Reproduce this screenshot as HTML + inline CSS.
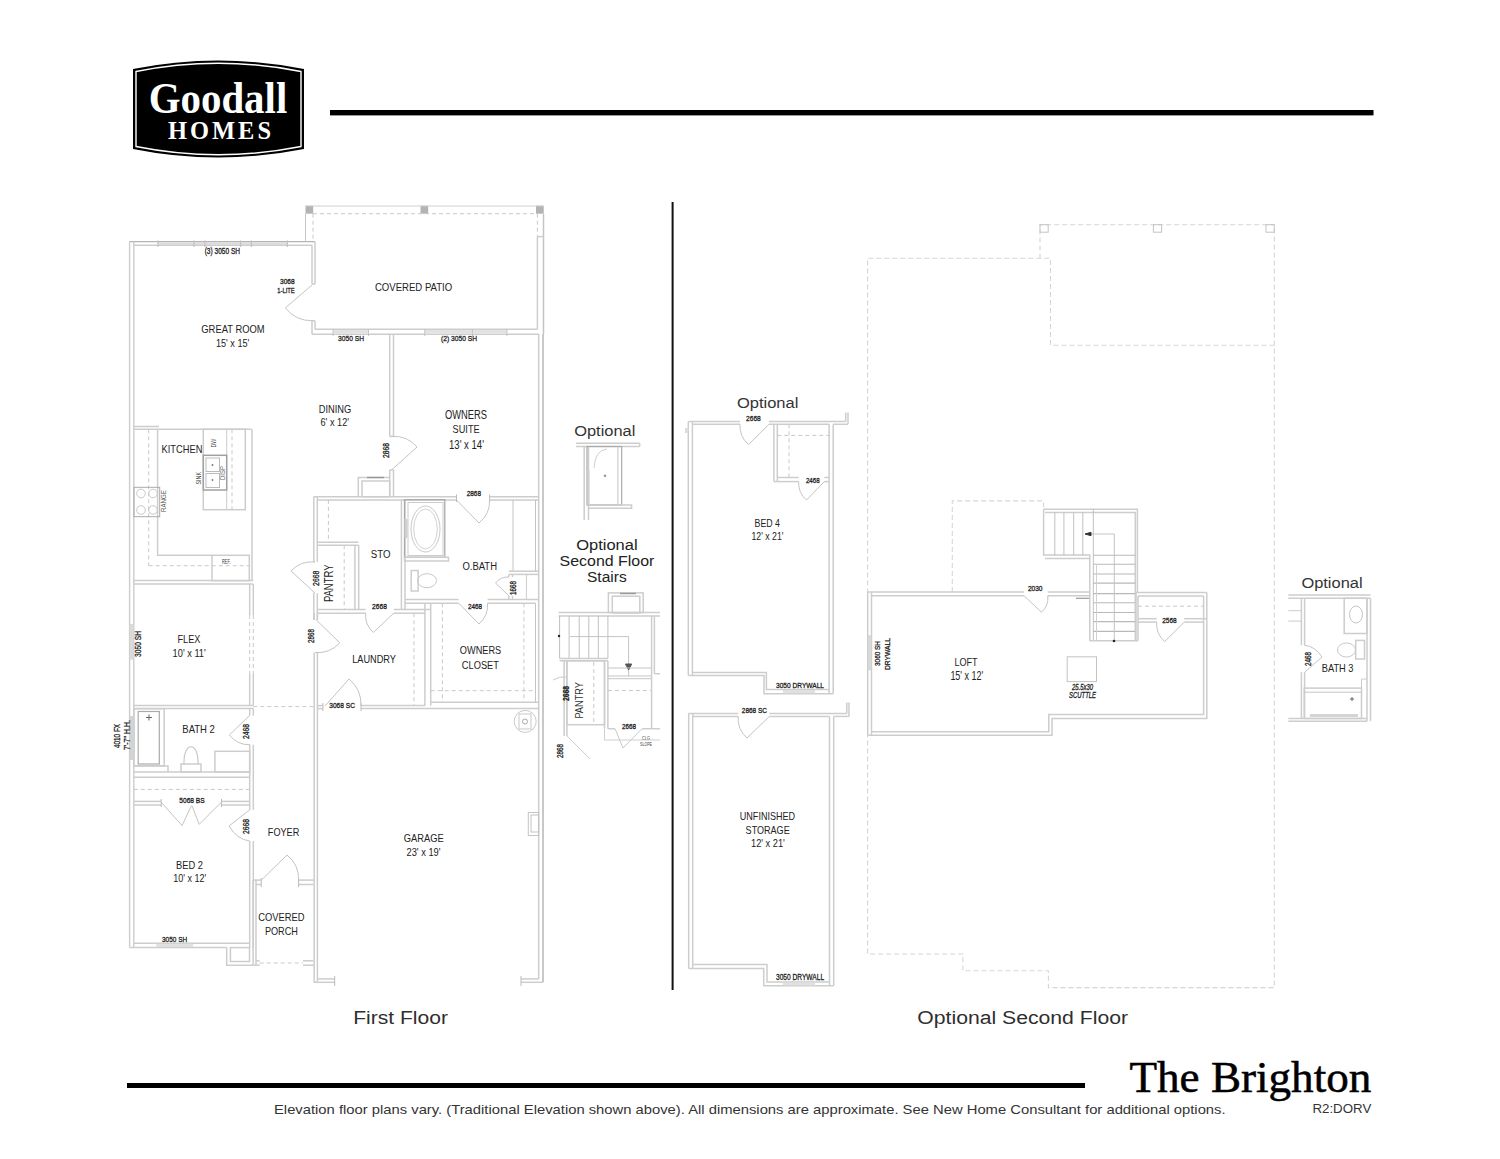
<!DOCTYPE html>
<html><head><meta charset="utf-8">
<style>
html,body{margin:0;padding:0;background:#fff;}
body{width:1500px;height:1159px;position:relative;overflow:hidden;font-family:"Liberation Sans",sans-serif;}
.abs{position:absolute;white-space:nowrap;}

</style></head><body>
<svg class="abs" style="left:0;top:0" width="1500" height="1159" viewBox="0 0 1500 1159">
  <path d="M133 69 Q218 52 304 69 L304 149 Q218 166 133 149 Z" fill="#000"/>
  <path d="M136 71.5 Q218 55 301 71.5 L301 146.5 Q218 163 136 146.5 Z" fill="none" stroke="#fff" stroke-width="1.4"/>
  <rect x="330" y="110" width="1043.5" height="5.4" fill="#000"/>
  <rect x="127" y="1083" width="958" height="5" fill="#000"/>
  <rect x="671.6" y="202" width="2" height="788" fill="#111"/>
<line x1="129.6" y1="241.6" x2="315" y2="241.6" stroke="#b4b4b4" stroke-width="1.4"/>
<line x1="133.8" y1="245.3" x2="312" y2="245.3" stroke="#cdcdcd" stroke-width="1.5"/>
<rect x="158" y="242.2" width="129" height="2.8" fill="#dcdcdc"/>
<line x1="158" y1="240.5" x2="158" y2="247" stroke="#bbb" stroke-width="1"/>
<line x1="194" y1="240.5" x2="194" y2="247" stroke="#bbb" stroke-width="1"/>
<line x1="205" y1="240.5" x2="205" y2="247" stroke="#bbb" stroke-width="1"/>
<line x1="240.7" y1="240.5" x2="240.7" y2="247" stroke="#bbb" stroke-width="1"/>
<line x1="251.3" y1="240.5" x2="251.3" y2="247" stroke="#bbb" stroke-width="1"/>
<line x1="287.3" y1="240.5" x2="287.3" y2="247" stroke="#bbb" stroke-width="1"/>
<line x1="129.6" y1="241.6" x2="129.6" y2="947.6" stroke="#cdcdcd" stroke-width="1.4"/>
<line x1="133.8" y1="241.6" x2="133.8" y2="947.6" stroke="#cdcdcd" stroke-width="1.4"/>
<line x1="315" y1="241.6" x2="315" y2="284" stroke="#cdcdcd" stroke-width="1.5"/>
<line x1="312" y1="245.3" x2="312" y2="284" stroke="#cdcdcd" stroke-width="1.5"/>
<line x1="312" y1="284" x2="315" y2="284" stroke="#cdcdcd" stroke-width="1.5"/>
<line x1="312" y1="320.7" x2="315" y2="320.7" stroke="#cdcdcd" stroke-width="1.5"/>
<line x1="315" y1="320.7" x2="315" y2="329.3" stroke="#cdcdcd" stroke-width="1.5"/>
<line x1="312" y1="320.7" x2="312" y2="334.3" stroke="#cdcdcd" stroke-width="1.5"/>
<path d="M312,285 L285.3,308" stroke="#c4c4c4" stroke-width="1" fill="none"/>
<path d="M285.3,308 Q296.1,321.3 313,320.7" stroke="#c4c4c4" stroke-width="1" fill="none"/>
<text x="280" y="284" font-family="Liberation Sans" font-size="7.4" fill="#222" stroke="#222" stroke-width="0.3" textLength="14.7" lengthAdjust="spacingAndGlyphs">3068</text>
<text x="277.3" y="292.7" font-family="Liberation Sans" font-size="7.26" fill="#222" stroke="#222" stroke-width="0.3" textLength="17.4" lengthAdjust="spacingAndGlyphs">1-LITE</text>
<text x="204.7" y="254" font-family="Liberation Sans" font-size="8.38" fill="#222" stroke="#222" stroke-width="0.3" textLength="35.3" lengthAdjust="spacingAndGlyphs">(3) 3050 SH</text>
<text x="201.3" y="333.3" font-family="Liberation Sans" font-size="11.17" fill="#222" textLength="63.4" lengthAdjust="spacingAndGlyphs">GREAT ROOM</text>
<text x="216" y="346.7" font-family="Liberation Sans" font-size="10.34" fill="#222" textLength="33.3" lengthAdjust="spacingAndGlyphs">15' x 15'</text>
<rect x="305.5" y="205.7" width="7.7" height="8.0" fill="#b3b3b3"/>
<rect x="420.5" y="205.7" width="7.7" height="8.0" fill="#b3b3b3"/>
<rect x="536" y="205.7" width="7.7" height="8.0" fill="#b3b3b3"/>
<line x1="305.5" y1="206" x2="543.5" y2="206" stroke="#d0d0d0" stroke-width="1"/>
<line x1="313" y1="213.7" x2="537" y2="213.7" stroke="#c9c9c9" stroke-width="1" stroke-dasharray="4 3"/>
<line x1="305.5" y1="213.7" x2="305.5" y2="241.6" stroke="#c8c8c8" stroke-width="1"/>
<line x1="313" y1="213.7" x2="313" y2="241.6" stroke="#c9c9c9" stroke-width="1" stroke-dasharray="4 3"/>
<line x1="543.5" y1="213.7" x2="543.5" y2="334" stroke="#c4c4c4" stroke-width="1.5"/>
<line x1="537.4" y1="213.7" x2="537.4" y2="236.6" stroke="#c9c9c9" stroke-width="1" stroke-dasharray="4 3"/>
<line x1="537.4" y1="236.6" x2="537.4" y2="329.3" stroke="#cdcdcd" stroke-width="1.5"/>
<line x1="537.4" y1="236.6" x2="543.5" y2="236.6" stroke="#cdcdcd" stroke-width="1.5"/>
<line x1="315" y1="329.3" x2="537.4" y2="329.3" stroke="#cdcdcd" stroke-width="1.5"/>
<line x1="312" y1="334.3" x2="538.7" y2="334.3" stroke="#cdcdcd" stroke-width="1.5"/>
<rect x="333" y="330" width="35.5" height="3.5" fill="#e2e2e2"/>
<rect x="424.8" y="330" width="82.2" height="3.5" fill="#e2e2e2"/>
<line x1="333" y1="329" x2="333" y2="336" stroke="#c4c4c4" stroke-width="1"/>
<line x1="368.5" y1="329" x2="368.5" y2="336" stroke="#c4c4c4" stroke-width="1"/>
<line x1="424.8" y1="329" x2="424.8" y2="336" stroke="#c4c4c4" stroke-width="1"/>
<line x1="472.4" y1="329" x2="472.4" y2="336" stroke="#c4c4c4" stroke-width="1"/>
<line x1="507" y1="329" x2="507" y2="336" stroke="#c4c4c4" stroke-width="1"/>
<text x="374.9" y="290.8" font-family="Liberation Sans" font-size="10.89" fill="#222" textLength="77.3" lengthAdjust="spacingAndGlyphs">COVERED PATIO</text>
<text x="338" y="341" font-family="Liberation Sans" font-size="7.82" fill="#222" stroke="#222" stroke-width="0.3" textLength="26" lengthAdjust="spacingAndGlyphs">3050 SH</text>
<text x="441" y="341" font-family="Liberation Sans" font-size="7.82" fill="#222" stroke="#222" stroke-width="0.3" textLength="36" lengthAdjust="spacingAndGlyphs">(2) 3050 SH</text>
<line x1="389.7" y1="334.3" x2="389.7" y2="436.4" stroke="#cdcdcd" stroke-width="1.5"/>
<line x1="393.5" y1="334.3" x2="393.5" y2="436.4" stroke="#cdcdcd" stroke-width="1.5"/>
<line x1="389.7" y1="470" x2="389.7" y2="496.7" stroke="#cdcdcd" stroke-width="1.5"/>
<line x1="393.5" y1="470" x2="393.5" y2="496.7" stroke="#cdcdcd" stroke-width="1.5"/>
<line x1="389.7" y1="436.4" x2="393.5" y2="436.4" stroke="#cdcdcd" stroke-width="1.5"/>
<line x1="389.7" y1="470" x2="393.5" y2="470" stroke="#cdcdcd" stroke-width="1.5"/>
<path d="M391.5,470 L417,447" stroke="#c4c4c4" stroke-width="1" fill="none"/>
<path d="M417,447 Q407.1,435.4 391.5,436.4" stroke="#c4c4c4" stroke-width="1" fill="none"/>
<text transform="translate(389,458) rotate(-90)" x="0" y="0" font-family="Liberation Sans" font-size="8.38" fill="#222" stroke="#222" stroke-width="0.3" textLength="15" lengthAdjust="spacingAndGlyphs">2868</text>
<text x="318.7" y="412.7" font-family="Liberation Sans" font-size="11.17" fill="#222" textLength="32.5" lengthAdjust="spacingAndGlyphs">DINING</text>
<text x="320.5" y="426" font-family="Liberation Sans" font-size="11.17" fill="#222" textLength="28.5" lengthAdjust="spacingAndGlyphs">6' x 12'</text>
<text x="445" y="419" font-family="Liberation Sans" font-size="11.87" fill="#222" textLength="42" lengthAdjust="spacingAndGlyphs">OWNERS</text>
<text x="452.6" y="433" font-family="Liberation Sans" font-size="11.73" fill="#222" textLength="27.0" lengthAdjust="spacingAndGlyphs">SUITE</text>
<text x="449" y="448.5" font-family="Liberation Sans" font-size="12.57" fill="#222" textLength="35" lengthAdjust="spacingAndGlyphs">13' x 14'</text>
<path d="M358.3,496.7 V477.5 H389.7" stroke="#cdcdcd" stroke-width="1.5" fill="none"/>
<rect x="362" y="481" width="27.7" height="15.7" stroke="#cdcdcd" stroke-width="1.5" fill="none"/>
<line x1="367" y1="477.5" x2="384" y2="477.5" stroke="#999" stroke-width="1.5"/>
<line x1="133.8" y1="426.5" x2="159" y2="426.5" stroke="#cdcdcd" stroke-width="1.5"/>
<line x1="133.8" y1="429.3" x2="251.5" y2="429.3" stroke="#cdcdcd" stroke-width="1.5"/>
<path d="M157.6,429.3 V555.3 H212" stroke="#cdcdcd" stroke-width="1.5" fill="none"/>
<line x1="148.7" y1="429.3" x2="148.7" y2="565.7" stroke="#c9c9c9" stroke-width="1" stroke-dasharray="4 3"/>
<line x1="148.7" y1="565.7" x2="250" y2="565.7" stroke="#c9c9c9" stroke-width="1" stroke-dasharray="4 3"/>
<rect x="134" y="487.3" width="25.7" height="29.4" stroke="#aaa" stroke-width="1" fill="none"/>
<circle cx="141" cy="493.5" r="4.3" stroke="#c8c8c8" stroke-width="1" fill="none"/>
<circle cx="153" cy="493.5" r="4.3" stroke="#c8c8c8" stroke-width="1" fill="none"/>
<circle cx="141" cy="510" r="4.3" stroke="#c8c8c8" stroke-width="1" fill="none"/>
<circle cx="153" cy="510" r="4.3" stroke="#c8c8c8" stroke-width="1" fill="none"/>
<text transform="translate(166,512) rotate(-90)" x="0" y="0" font-family="Liberation Sans" font-size="7.68" fill="#555" textLength="22" lengthAdjust="spacingAndGlyphs">RANGE</text>
<line x1="252" y1="429.3" x2="252" y2="580.4" stroke="#cdcdcd" stroke-width="1.5"/>
<rect x="203.3" y="429.3" width="42.0" height="80.4" stroke="#cdcdcd" stroke-width="1.5" fill="none"/>
<line x1="232" y1="429.3" x2="232" y2="509.7" stroke="#c9c9c9" stroke-width="1" stroke-dasharray="4 3"/>
<line x1="226.7" y1="429.3" x2="226.7" y2="509.7" stroke="#ccc" stroke-width="1"/>
<rect x="203.3" y="455.3" width="23.4" height="34.7" stroke="#a0a0a0" stroke-width="1.5" fill="none"/>
<rect x="206" y="458" width="13.5" height="13.5" stroke="#bbb" stroke-width="1" fill="none"/>
<rect x="206" y="473.5" width="13.5" height="14.0" stroke="#bbb" stroke-width="1" fill="none"/>
<circle cx="212.5" cy="465" r="0.9" fill="#777"/>
<circle cx="212.5" cy="480" r="0.9" fill="#777"/>
<text transform="translate(225,480) rotate(-90)" x="0" y="0" font-family="Liberation Sans" font-size="6.28" fill="#666" textLength="14" lengthAdjust="spacingAndGlyphs">DISP</text>
<text transform="translate(216.4,447.4) rotate(-90)" x="0" y="0" font-family="Liberation Sans" font-size="8.1" fill="#444" textLength="8.7" lengthAdjust="spacingAndGlyphs">DW</text>
<text transform="translate(200.5,484.5) rotate(-90)" x="0" y="0" font-family="Liberation Sans" font-size="7.68" fill="#444" textLength="12.5" lengthAdjust="spacingAndGlyphs">SINK</text>
<rect x="212" y="555.3" width="37.3" height="25.4" stroke="#cdcdcd" stroke-width="1.5" fill="none"/>
<text x="222" y="564" font-family="Liberation Sans" font-size="6.28" fill="#333" textLength="8.5" lengthAdjust="spacingAndGlyphs">REF.</text>
<text x="161.6" y="452.7" font-family="Liberation Sans" font-size="10.34" fill="#222" textLength="40.8" lengthAdjust="spacingAndGlyphs">KITCHEN</text>
<line x1="133.8" y1="580.4" x2="253.3" y2="580.4" stroke="#cdcdcd" stroke-width="1.5"/>
<line x1="133.8" y1="584" x2="253.3" y2="584" stroke="#cdcdcd" stroke-width="1.5"/>
<line x1="249.7" y1="584" x2="249.7" y2="615" stroke="#cdcdcd" stroke-width="1.5"/>
<line x1="253.3" y1="584" x2="253.3" y2="615" stroke="#cdcdcd" stroke-width="1.5"/>
<line x1="249.7" y1="674" x2="249.7" y2="705.6" stroke="#cdcdcd" stroke-width="1.5"/>
<line x1="253.3" y1="674" x2="253.3" y2="705.6" stroke="#cdcdcd" stroke-width="1.5"/>
<line x1="249.7" y1="615" x2="249.7" y2="674" stroke="#c9c9c9" stroke-width="1" stroke-dasharray="4 3"/>
<line x1="253.3" y1="615" x2="253.3" y2="674" stroke="#c9c9c9" stroke-width="1" stroke-dasharray="4 3"/>
<line x1="133.8" y1="705.6" x2="253.3" y2="705.6" stroke="#cdcdcd" stroke-width="1.5"/>
<line x1="133.8" y1="708.6" x2="253.3" y2="708.6" stroke="#cdcdcd" stroke-width="1.5"/>
<rect x="129.8" y="624" width="3.8" height="35.7" fill="#dadada"/>
<text transform="translate(141,657) rotate(-90)" x="0" y="0" font-family="Liberation Sans" font-size="8.38" fill="#222" stroke="#222" stroke-width="0.3" textLength="26" lengthAdjust="spacingAndGlyphs">3050 SH</text>
<text x="177.5" y="643.4" font-family="Liberation Sans" font-size="10.89" fill="#222" textLength="22.9" lengthAdjust="spacingAndGlyphs">FLEX</text>
<text x="172.6" y="656.7" font-family="Liberation Sans" font-size="10.2" fill="#222" textLength="33.2" lengthAdjust="spacingAndGlyphs">10' x 11'</text>
<rect x="134" y="708.7" width="30.2" height="57.1" stroke="#cdcdcd" stroke-width="1.5" fill="none"/>
<rect x="138.2" y="711.5" width="21.1" height="52.5" stroke="#aaa" stroke-width="1.2" fill="none"/>
<line x1="146" y1="717.5" x2="152" y2="717.5" stroke="#666" stroke-width="1"/>
<line x1="149" y1="714.5" x2="149" y2="720.5" stroke="#666" stroke-width="1"/>
<rect x="129.8" y="716" width="3.8" height="44" fill="#d4d4d4"/>
<text transform="translate(120,748) rotate(-90)" x="0" y="0" font-family="Liberation Sans" font-size="9.78" fill="#222" stroke="#222" stroke-width="0.3" textLength="24" lengthAdjust="spacingAndGlyphs">4010 FX</text>
<text transform="translate(130,750) rotate(-90)" x="0" y="0" font-family="Liberation Sans" font-size="9.78" fill="#222" stroke="#222" stroke-width="0.3" textLength="30" lengthAdjust="spacingAndGlyphs">7'-7&quot; H.H.</text>
<path d="M134,766 H168 V772" stroke="#cdcdcd" stroke-width="1.5" fill="none"/>
<line x1="133.8" y1="772" x2="249.7" y2="772" stroke="#cdcdcd" stroke-width="1.5"/>
<line x1="133.8" y1="777.3" x2="249.7" y2="777.3" stroke="#cdcdcd" stroke-width="1.5"/>
<line x1="133.8" y1="789.4" x2="249.7" y2="789.4" stroke="#c9c9c9" stroke-width="1" stroke-dasharray="4 3"/>
<line x1="133.8" y1="801.4" x2="161.2" y2="801.4" stroke="#cdcdcd" stroke-width="1.5"/>
<line x1="133.8" y1="805" x2="161.2" y2="805" stroke="#cdcdcd" stroke-width="1.5"/>
<line x1="221.5" y1="801.4" x2="249.7" y2="801.4" stroke="#cdcdcd" stroke-width="1.5"/>
<line x1="221.5" y1="805" x2="249.7" y2="805" stroke="#cdcdcd" stroke-width="1.5"/>
<line x1="161.2" y1="799" x2="161.2" y2="807" stroke="#bbb" stroke-width="1"/>
<line x1="221.5" y1="799" x2="221.5" y2="807" stroke="#bbb" stroke-width="1"/>
<path d="M161,802 L182,825.6 L191.4,805.7" stroke="#c4c4c4" stroke-width="1" fill="none"/>
<path d="M192,805.7 L199.2,824.4 L221.5,802" stroke="#c4c4c4" stroke-width="1" fill="none"/>
<text x="179.3" y="802.7" font-family="Liberation Sans" font-size="7.68" fill="#222" stroke="#222" stroke-width="0.3" textLength="25.3" lengthAdjust="spacingAndGlyphs">5068 BS</text>
<line x1="249.7" y1="708.6" x2="249.7" y2="715.7" stroke="#cdcdcd" stroke-width="1.5"/>
<line x1="253.3" y1="708.6" x2="253.3" y2="715.7" stroke="#cdcdcd" stroke-width="1.5"/>
<line x1="249.7" y1="744.7" x2="249.7" y2="809.9" stroke="#cdcdcd" stroke-width="1.5"/>
<line x1="253.3" y1="744.7" x2="253.3" y2="809.9" stroke="#cdcdcd" stroke-width="1.5"/>
<path d="M249.3,715.7 L229.4,735" stroke="#c4c4c4" stroke-width="1" fill="none"/>
<path d="M229.4,735 Q237.5,745.1 249.9,744.7" stroke="#c4c4c4" stroke-width="1" fill="none"/>
<text transform="translate(249,739) rotate(-90)" x="0" y="0" font-family="Liberation Sans" font-size="8.38" fill="#222" stroke="#222" stroke-width="0.3" textLength="15" lengthAdjust="spacingAndGlyphs">2468</text>
<rect x="214.9" y="751.3" width="34.8" height="20.7" stroke="#cdcdcd" stroke-width="1.5" fill="none"/>
<rect x="181" y="764" width="20" height="8" stroke="#cdcdcd" stroke-width="1.5" fill="none"/>
<path d="M184,764 C183,741 199,741 198,764" stroke="#c4c4c4" stroke-width="1.1" fill="none"/>
<text x="182.3" y="732.6" font-family="Liberation Sans" font-size="10.89" fill="#222" textLength="32.6" lengthAdjust="spacingAndGlyphs">BATH 2</text>
<line x1="249.7" y1="841" x2="249.7" y2="947.6" stroke="#cdcdcd" stroke-width="1.5"/>
<line x1="253.3" y1="841" x2="253.3" y2="947.6" stroke="#cdcdcd" stroke-width="1.5"/>
<path d="M249.7,809.9 L229,826" stroke="#c4c4c4" stroke-width="1" fill="none"/>
<path d="M229,826 Q236.8,839.4 249.7,841" stroke="#c4c4c4" stroke-width="1" fill="none"/>
<text transform="translate(249,834) rotate(-90)" x="0" y="0" font-family="Liberation Sans" font-size="8.38" fill="#222" stroke="#222" stroke-width="0.3" textLength="15" lengthAdjust="spacingAndGlyphs">2668</text>
<line x1="133.8" y1="943.2" x2="249.5" y2="943.2" stroke="#cdcdcd" stroke-width="1.5"/>
<line x1="129.6" y1="947.6" x2="226.7" y2="947.6" stroke="#cdcdcd" stroke-width="1.5"/>
<rect x="156.3" y="943.8" width="36.7" height="3.2" fill="#e0e0e0"/>
<text x="162" y="941.7" font-family="Liberation Sans" font-size="8.1" fill="#222" stroke="#222" stroke-width="0.3" textLength="25.1" lengthAdjust="spacingAndGlyphs">3050 SH</text>
<path d="M226.7,947.6 V965.2 H253" stroke="#cdcdcd" stroke-width="1.5" fill="none"/>
<rect x="230.4" y="947.6" width="19.1" height="13.9" stroke="#cdcdcd" stroke-width="1.5" fill="none"/>
<text x="176.1" y="869.1" font-family="Liberation Sans" font-size="10.2" fill="#222" textLength="26.9" lengthAdjust="spacingAndGlyphs">BED 2</text>
<text x="173.2" y="882.3" font-family="Liberation Sans" font-size="10.2" fill="#222" textLength="33.0" lengthAdjust="spacingAndGlyphs">10' x 12'</text>
<line x1="253.1" y1="880.1" x2="253.1" y2="965.2" stroke="#cdcdcd" stroke-width="1.5"/>
<line x1="256" y1="880.1" x2="256" y2="965.2" stroke="#cdcdcd" stroke-width="1.5"/>
<line x1="253.1" y1="880.1" x2="261.2" y2="880.1" stroke="#cdcdcd" stroke-width="1.5"/>
<line x1="256" y1="884.5" x2="261.2" y2="884.5" stroke="#cdcdcd" stroke-width="1.5"/>
<line x1="298.6" y1="880.1" x2="314.6" y2="880.1" stroke="#cdcdcd" stroke-width="1.5"/>
<line x1="298.6" y1="884.5" x2="313.3" y2="884.5" stroke="#cdcdcd" stroke-width="1.5"/>
<line x1="261.2" y1="878" x2="261.2" y2="887" stroke="#bbb" stroke-width="1"/>
<line x1="298.6" y1="878" x2="298.6" y2="887" stroke="#bbb" stroke-width="1"/>
<path d="M261.5,880 L287,855" stroke="#c4c4c4" stroke-width="1" fill="none"/>
<path d="M287,855 Q299.2,864.9 298.6,880" stroke="#c4c4c4" stroke-width="1" fill="none"/>
<line x1="253.1" y1="965.2" x2="259.7" y2="965.2" stroke="#cdcdcd" stroke-width="1.5"/>
<line x1="256" y1="960.8" x2="259.7" y2="960.8" stroke="#cdcdcd" stroke-width="1.5"/>
<line x1="303" y1="965.2" x2="314.6" y2="965.2" stroke="#cdcdcd" stroke-width="1.5"/>
<line x1="303" y1="960.8" x2="313.3" y2="960.8" stroke="#cdcdcd" stroke-width="1.5"/>
<line x1="259.7" y1="963" x2="303" y2="963" stroke="#c9c9c9" stroke-width="1" stroke-dasharray="4 3"/>
<text x="267.8" y="836.1" font-family="Liberation Sans" font-size="10.2" fill="#222" textLength="31.5" lengthAdjust="spacingAndGlyphs">FOYER</text>
<text x="258.3" y="921.2" font-family="Liberation Sans" font-size="11.31" fill="#222" textLength="46.2" lengthAdjust="spacingAndGlyphs">COVERED</text>
<text x="264.9" y="935.1" font-family="Liberation Sans" font-size="11.31" fill="#222" textLength="33.0" lengthAdjust="spacingAndGlyphs">PORCH</text>
<line x1="253.3" y1="706.6" x2="314.2" y2="706.6" stroke="#c9c9c9" stroke-width="1" stroke-dasharray="4 3"/>
<line x1="313.7" y1="496.7" x2="456.5" y2="496.7" stroke="#cdcdcd" stroke-width="1.5"/>
<line x1="317.2" y1="499.9" x2="456.5" y2="499.9" stroke="#cdcdcd" stroke-width="1.5"/>
<line x1="489.6" y1="496.7" x2="538.7" y2="496.7" stroke="#cdcdcd" stroke-width="1.5"/>
<line x1="489.6" y1="499.9" x2="538.7" y2="499.9" stroke="#cdcdcd" stroke-width="1.5"/>
<line x1="313.8" y1="496.7" x2="313.8" y2="562" stroke="#cdcdcd" stroke-width="1.5"/>
<line x1="317.3" y1="496.7" x2="317.3" y2="562" stroke="#cdcdcd" stroke-width="1.5"/>
<line x1="313.8" y1="593.1" x2="313.8" y2="620" stroke="#cdcdcd" stroke-width="1.5"/>
<line x1="317.3" y1="593.1" x2="317.3" y2="620" stroke="#cdcdcd" stroke-width="1.5"/>
<path d="M315,593.1 L291,571" stroke="#c4c4c4" stroke-width="1" fill="none"/>
<path d="M291,571 Q300.4,560.7 315,562" stroke="#c4c4c4" stroke-width="1" fill="none"/>
<text transform="translate(318.6,585.9) rotate(-90)" x="0" y="0" font-family="Liberation Sans" font-size="8.66" fill="#222" stroke="#222" stroke-width="0.3" textLength="15.2" lengthAdjust="spacingAndGlyphs">2668</text>
<text transform="translate(333.1,602.1) rotate(-90)" x="0" y="0" font-family="Liberation Sans" font-size="12.43" fill="#222" textLength="37.6" lengthAdjust="spacingAndGlyphs">PANTRY</text>
<line x1="328.4" y1="499.9" x2="328.4" y2="542.5" stroke="#c9c9c9" stroke-width="1" stroke-dasharray="4 3"/>
<line x1="317.3" y1="542.3" x2="358.5" y2="542.3" stroke="#cdcdcd" stroke-width="1.5"/>
<line x1="317.3" y1="545.2" x2="358.5" y2="545.2" stroke="#cdcdcd" stroke-width="1.5"/>
<line x1="354.9" y1="545.2" x2="354.9" y2="609.6" stroke="#cdcdcd" stroke-width="1.5"/>
<line x1="358.7" y1="545.2" x2="358.7" y2="609.6" stroke="#cdcdcd" stroke-width="1.5"/>
<line x1="344.2" y1="545.2" x2="344.2" y2="609" stroke="#c9c9c9" stroke-width="1" stroke-dasharray="4 3"/>
<line x1="401.4" y1="499.9" x2="401.4" y2="609.6" stroke="#cdcdcd" stroke-width="1.5"/>
<line x1="405" y1="499.9" x2="405" y2="609.6" stroke="#cdcdcd" stroke-width="1.5"/>
<text x="370.8" y="558.3" font-family="Liberation Sans" font-size="10.61" fill="#222" textLength="19.7" lengthAdjust="spacingAndGlyphs">STO</text>
<line x1="317.4" y1="609.6" x2="365.7" y2="609.6" stroke="#cdcdcd" stroke-width="1.5"/>
<line x1="317.4" y1="613.2" x2="365.7" y2="613.2" stroke="#cdcdcd" stroke-width="1.5"/>
<line x1="394" y1="609.6" x2="430.4" y2="609.6" stroke="#cdcdcd" stroke-width="1.5"/>
<line x1="394" y1="613.2" x2="424.9" y2="613.2" stroke="#cdcdcd" stroke-width="1.5"/>
<path d="M394,613 L373.3,632.5" stroke="#c4c4c4" stroke-width="1" fill="none"/>
<path d="M373.3,632.5 Q364.6,624.7 365.7,613" stroke="#c4c4c4" stroke-width="1" fill="none"/>
<text x="372" y="609" font-family="Liberation Sans" font-size="7.68" fill="#222" stroke="#222" stroke-width="0.3" textLength="14.9" lengthAdjust="spacingAndGlyphs">2668</text>
<line x1="456.5" y1="494.5" x2="456.5" y2="502" stroke="#bbb" stroke-width="1"/>
<line x1="489.6" y1="494.5" x2="489.6" y2="502" stroke="#bbb" stroke-width="1"/>
<path d="M456.5,500 L479,523" stroke="#c4c4c4" stroke-width="1" fill="none"/>
<path d="M479,523 Q490.2,513.9 489.6,500" stroke="#c4c4c4" stroke-width="1" fill="none"/>
<text x="466.7" y="495.5" font-family="Liberation Sans" font-size="7.68" fill="#222" stroke="#222" stroke-width="0.3" textLength="14.3" lengthAdjust="spacingAndGlyphs">2868</text>
<rect x="404.5" y="499.7" width="40.3" height="57.6" stroke="#aaa" stroke-width="1.3" fill="none"/>
<rect x="408" y="502.5" width="35" height="53.0" stroke="#ccc" stroke-width="1" fill="none"/>
<ellipse cx="425.5" cy="529" rx="14.5" ry="23" stroke="#c9c9c9" stroke-width="1" fill="none"/>
<ellipse cx="425.5" cy="529" rx="11.8" ry="20" stroke="#d2d2d2" stroke-width="1" fill="none"/>
<rect x="404.5" y="557.3" width="44.0" height="3.7" stroke="#cdcdcd" stroke-width="1.5" fill="none"/>
<rect x="404.5" y="519" width="3.0" height="19" fill="#cfcfcf"/>
<rect x="411.2" y="570.5" width="6.9" height="20.5" stroke="#cdcdcd" stroke-width="1.5" fill="none"/>
<ellipse cx="427" cy="580.7" rx="9.5" ry="7" stroke="#c9c9c9" stroke-width="1" fill="none"/>
<line x1="513" y1="500" x2="513" y2="571.2" stroke="#c4c4c4" stroke-width="1"/>
<line x1="535.5" y1="500" x2="535.5" y2="571.2" stroke="#c4c4c4" stroke-width="1"/>
<line x1="508.8" y1="571.2" x2="538.7" y2="571.2" stroke="#cdcdcd" stroke-width="1.5"/>
<line x1="508.8" y1="574.4" x2="538.7" y2="574.4" stroke="#cdcdcd" stroke-width="1.5"/>
<line x1="508.8" y1="574.4" x2="508.8" y2="577" stroke="#cdcdcd" stroke-width="1.5"/>
<line x1="512.5" y1="574.4" x2="512.5" y2="577" stroke="#cdcdcd" stroke-width="1.5"/>
<line x1="508.8" y1="595.7" x2="508.8" y2="599.4" stroke="#cdcdcd" stroke-width="1.5"/>
<line x1="512.5" y1="595.7" x2="512.5" y2="599.4" stroke="#cdcdcd" stroke-width="1.5"/>
<path d="M508.8,595.7 L495.5,583" stroke="#c4c4c4" stroke-width="1" fill="none"/>
<path d="M495.5,583 Q500.7,576.6 508.8,577" stroke="#c4c4c4" stroke-width="1" fill="none"/>
<text transform="translate(516,595) rotate(-90)" x="0" y="0" font-family="Liberation Sans" font-size="8.38" fill="#222" stroke="#222" stroke-width="0.3" textLength="14" lengthAdjust="spacingAndGlyphs">1668</text>
<line x1="526.4" y1="574.4" x2="526.4" y2="599.4" stroke="#ccc" stroke-width="1"/>
<text x="462.4" y="569.6" font-family="Liberation Sans" font-size="10.61" fill="#222" textLength="34.6" lengthAdjust="spacingAndGlyphs">O.BATH</text>
<line x1="405" y1="599.4" x2="458.5" y2="599.4" stroke="#cdcdcd" stroke-width="1.5"/>
<line x1="405" y1="603.3" x2="458.5" y2="603.3" stroke="#cdcdcd" stroke-width="1.5"/>
<line x1="487.6" y1="599.4" x2="538.7" y2="599.4" stroke="#cdcdcd" stroke-width="1.5"/>
<line x1="487.6" y1="603.3" x2="535.5" y2="603.3" stroke="#cdcdcd" stroke-width="1.5"/>
<path d="M458.5,603 L479,624" stroke="#c4c4c4" stroke-width="1" fill="none"/>
<path d="M479,624 Q488.5,615.7 487.6,603" stroke="#c4c4c4" stroke-width="1" fill="none"/>
<text x="468" y="608.5" font-family="Liberation Sans" font-size="6.98" fill="#222" stroke="#222" stroke-width="0.3" textLength="14" lengthAdjust="spacingAndGlyphs">2468</text>
<line x1="538.7" y1="334.3" x2="538.7" y2="978.9" stroke="#cdcdcd" stroke-width="1.5"/>
<line x1="543" y1="334" x2="543" y2="982.3" stroke="#c2c2c2" stroke-width="1.8"/>
<line x1="314.2" y1="613" x2="314.2" y2="620" stroke="#cdcdcd" stroke-width="1.5"/>
<line x1="317.4" y1="613" x2="317.4" y2="620" stroke="#cdcdcd" stroke-width="1.5"/>
<line x1="314.2" y1="652.5" x2="314.2" y2="982.3" stroke="#cdcdcd" stroke-width="1.5"/>
<line x1="317.4" y1="652.5" x2="317.4" y2="982.3" stroke="#cdcdcd" stroke-width="1.5"/>
<path d="M316.2,619.9 L339.8,642.8" stroke="#c4c4c4" stroke-width="1" fill="none"/>
<path d="M339.8,642.8 Q329.9,653.8 315,652.5" stroke="#c4c4c4" stroke-width="1" fill="none"/>
<text transform="translate(313.8,643) rotate(-90)" x="0" y="0" font-family="Liberation Sans" font-size="9.5" fill="#222" stroke="#222" stroke-width="0.3" textLength="14" lengthAdjust="spacingAndGlyphs">2868</text>
<line x1="414" y1="613.2" x2="414" y2="705.6" stroke="#c9c9c9" stroke-width="1" stroke-dasharray="4 3"/>
<line x1="424.9" y1="603.3" x2="424.9" y2="705.6" stroke="#cdcdcd" stroke-width="1.5"/>
<line x1="430.7" y1="603.3" x2="430.7" y2="705.6" stroke="#cdcdcd" stroke-width="1.5"/>
<text x="352.2" y="662.7" font-family="Liberation Sans" font-size="10.89" fill="#222" textLength="43.8" lengthAdjust="spacingAndGlyphs">LAUNDRY</text>
<line x1="317.4" y1="705.6" x2="322.9" y2="705.6" stroke="#cdcdcd" stroke-width="1.5"/>
<line x1="361" y1="705.6" x2="424.9" y2="705.6" stroke="#cdcdcd" stroke-width="1.5"/>
<line x1="317.4" y1="708.6" x2="322.9" y2="708.6" stroke="#cdcdcd" stroke-width="1.5"/>
<line x1="361" y1="708.6" x2="538.7" y2="708.6" stroke="#cdcdcd" stroke-width="1.5"/>
<line x1="322.9" y1="703" x2="322.9" y2="711" stroke="#bbb" stroke-width="1"/>
<line x1="361" y1="703" x2="361" y2="711" stroke="#bbb" stroke-width="1"/>
<path d="M325,706 L349,679" stroke="#c4c4c4" stroke-width="1" fill="none"/>
<path d="M349,679 Q361.7,689.5 361,706" stroke="#c4c4c4" stroke-width="1" fill="none"/>
<text x="329.3" y="708" font-family="Liberation Sans" font-size="7.54" fill="#222" stroke="#222" stroke-width="0.3" textLength="25.6" lengthAdjust="spacingAndGlyphs">3068 SC</text>
<line x1="442.4" y1="603.3" x2="442.4" y2="702.3" stroke="#c9c9c9" stroke-width="1" stroke-dasharray="4 3"/>
<line x1="523.9" y1="603.3" x2="523.9" y2="702.3" stroke="#c9c9c9" stroke-width="1" stroke-dasharray="4 3"/>
<line x1="430.7" y1="690.7" x2="535.5" y2="690.7" stroke="#c9c9c9" stroke-width="1" stroke-dasharray="4 3"/>
<line x1="430.7" y1="702.3" x2="538.7" y2="702.3" stroke="#cdcdcd" stroke-width="1.5"/>
<line x1="535.5" y1="603.3" x2="535.5" y2="702.3" stroke="#c4c4c4" stroke-width="1"/>
<text x="459.8" y="654.4" font-family="Liberation Sans" font-size="10.89" fill="#222" textLength="41.4" lengthAdjust="spacingAndGlyphs">OWNERS</text>
<text x="461.8" y="669" font-family="Liberation Sans" font-size="10.47" fill="#222" textLength="37.2" lengthAdjust="spacingAndGlyphs">CLOSET</text>
<circle cx="525.2" cy="721.4" r="11" stroke="#c9c9c9" stroke-width="1" fill="none"/>
<rect x="519" y="714" width="12" height="15" stroke="#c9c9c9" stroke-width="1" fill="none"/>
<circle cx="525" cy="721.5" r="2.5" stroke="#aaa" stroke-width="1" fill="none"/>
<rect x="528.3" y="812.5" width="10.3" height="23.0" stroke="#c4c4c4" stroke-width="1" fill="none"/>
<rect x="531" y="815" width="7.6" height="17" stroke="#c4c4c4" stroke-width="1" fill="none"/>
<line x1="313.5" y1="982.3" x2="334.7" y2="982.3" stroke="#cdcdcd" stroke-width="1.5"/>
<line x1="317.3" y1="978.9" x2="334.7" y2="978.9" stroke="#cdcdcd" stroke-width="1.5"/>
<line x1="334.7" y1="976" x2="334.7" y2="986" stroke="#bbb" stroke-width="1"/>
<line x1="521" y1="982.3" x2="543" y2="982.3" stroke="#cdcdcd" stroke-width="1.5"/>
<line x1="521" y1="978.9" x2="538.7" y2="978.9" stroke="#cdcdcd" stroke-width="1.5"/>
<line x1="521" y1="976" x2="521" y2="986" stroke="#bbb" stroke-width="1"/>
<text x="403.8" y="842" font-family="Liberation Sans" font-size="11.59" fill="#222" textLength="39.9" lengthAdjust="spacingAndGlyphs">GARAGE</text>
<text x="406.5" y="855.9" font-family="Liberation Sans" font-size="11.31" fill="#222" textLength="34.0" lengthAdjust="spacingAndGlyphs">23' x 19'</text>
<line x1="576" y1="443.2" x2="639.7" y2="443.2" stroke="#cdcdcd" stroke-width="1.5"/>
<line x1="576" y1="446.5" x2="639.7" y2="446.5" stroke="#cdcdcd" stroke-width="1.5"/>
<line x1="639.7" y1="443.2" x2="639.7" y2="446.5" stroke="#cdcdcd" stroke-width="1.5"/>
<line x1="584.2" y1="446.5" x2="584.2" y2="520" stroke="#cdcdcd" stroke-width="1.5"/>
<line x1="588.5" y1="446.5" x2="588.5" y2="520" stroke="#cdcdcd" stroke-width="1.5"/>
<rect x="587" y="446.5" width="34.7" height="58.4" stroke="#aaa" stroke-width="1.2" fill="none"/>
<line x1="617.9" y1="446.5" x2="617.9" y2="504.9" stroke="#c4c4c4" stroke-width="1"/>
<rect x="587.5" y="470" width="2.0" height="35" fill="#cfcfcf"/>
<path d="M588.5,505 H631.6 V508.2 H588.5" stroke="#cdcdcd" stroke-width="1.5" fill="none"/>
<path d="M607,449 Q595,450 594,468" stroke="#cfcfcf" stroke-width="1" fill="none"/>
<circle cx="605" cy="475.8" r="1.3" fill="#999"/>
<rect x="608.4" y="592.9" width="34.8" height="19.6" stroke="#cdcdcd" stroke-width="1.5" fill="none"/>
<rect x="612.3" y="596.2" width="27.5" height="16.8" stroke="#cdcdcd" stroke-width="1.5" fill="none"/>
<line x1="620" y1="593.5" x2="636" y2="593.5" stroke="#999" stroke-width="1.5"/>
<line x1="558.5" y1="612.5" x2="660" y2="612.5" stroke="#cdcdcd" stroke-width="1.5"/>
<line x1="558.5" y1="615.9" x2="660" y2="615.9" stroke="#cdcdcd" stroke-width="1.5"/>
<line x1="559.6" y1="615.9" x2="559.6" y2="658.5" stroke="#c0c0c0" stroke-width="1"/>
<line x1="569.1" y1="615.9" x2="569.1" y2="658.5" stroke="#c0c0c0" stroke-width="1"/>
<line x1="579.2" y1="615.9" x2="579.2" y2="658.5" stroke="#c0c0c0" stroke-width="1"/>
<line x1="588.8" y1="615.9" x2="588.8" y2="658.5" stroke="#c0c0c0" stroke-width="1"/>
<line x1="598.3" y1="615.9" x2="598.3" y2="658.5" stroke="#c0c0c0" stroke-width="1"/>
<line x1="607.9" y1="615.9" x2="607.9" y2="658.5" stroke="#c0c0c0" stroke-width="1"/>
<line x1="570" y1="636.6" x2="628.6" y2="636.6" stroke="#c4c4c4" stroke-width="1"/>
<line x1="628.6" y1="636.6" x2="628.6" y2="676" stroke="#c4c4c4" stroke-width="1"/>
<path d="M625.5,664 L628.6,670 L631.7,664 Z" stroke="#555" stroke-width="1" fill="#555"/>
<circle cx="559" cy="636" r="1.2" fill="#222"/>
<line x1="559.6" y1="658.5" x2="607.9" y2="658.5" stroke="#cdcdcd" stroke-width="1.5"/>
<line x1="559.6" y1="660.8" x2="607.9" y2="660.8" stroke="#cdcdcd" stroke-width="1.5"/>
<line x1="564.1" y1="660.8" x2="564.1" y2="736" stroke="#cdcdcd" stroke-width="1.5"/>
<line x1="566.9" y1="660.8" x2="566.9" y2="736" stroke="#cdcdcd" stroke-width="1.5"/>
<rect x="566.9" y="660.8" width="37.6" height="63.9" stroke="#cdcdcd" stroke-width="1.5" fill="none"/>
<line x1="604.5" y1="660.8" x2="604.5" y2="728.7" stroke="#cdcdcd" stroke-width="1.5"/>
<line x1="607.9" y1="660.8" x2="607.9" y2="728.7" stroke="#cdcdcd" stroke-width="1.5"/>
<line x1="593.8" y1="662" x2="593.8" y2="724.7" stroke="#c9c9c9" stroke-width="1" stroke-dasharray="4 3"/>
<text transform="translate(582.6,718.6) rotate(-90)" x="0" y="0" font-family="Liberation Sans" font-size="11.73" fill="#333" textLength="36.6" lengthAdjust="spacingAndGlyphs">PANTRY</text>
<text transform="translate(569,701) rotate(-90)" x="0" y="0" font-family="Liberation Sans" font-size="8.38" fill="#222" font-weight="bold" stroke="#222" stroke-width="0.3" textLength="15" lengthAdjust="spacingAndGlyphs">2668</text>
<line x1="607.9" y1="668" x2="651.6" y2="668" stroke="#c4c4c4" stroke-width="1"/>
<line x1="607.9" y1="676" x2="651.6" y2="676" stroke="#c4c4c4" stroke-width="1"/>
<line x1="607.9" y1="678.7" x2="651.6" y2="678.7" stroke="#c4c4c4" stroke-width="1"/>
<line x1="607.9" y1="690.5" x2="651.6" y2="690.5" stroke="#c9c9c9" stroke-width="1" stroke-dasharray="4 3"/>
<line x1="651.6" y1="615.9" x2="651.6" y2="728.7" stroke="#cdcdcd" stroke-width="1.5"/>
<line x1="654.4" y1="615.9" x2="654.4" y2="673.7" stroke="#cdcdcd" stroke-width="1.5"/>
<path d="M654.4,673.7 H660" stroke="#cdcdcd" stroke-width="1.5" fill="none"/>
<line x1="607.9" y1="728.7" x2="615" y2="728.7" stroke="#cdcdcd" stroke-width="1.5"/>
<line x1="642" y1="728.7" x2="660" y2="728.7" stroke="#cdcdcd" stroke-width="1.5"/>
<path d="M615,728.7 L623,748 L642,728.7" stroke="#c9c9c9" stroke-width="1" fill="none"/>
<text x="621.9" y="728.7" font-family="Liberation Sans" font-size="7.12" fill="#222" stroke="#222" stroke-width="0.3" textLength="14.0" lengthAdjust="spacingAndGlyphs">2668</text>
<text x="642" y="740" font-family="Liberation Sans" font-size="5.59" fill="#444" textLength="8" lengthAdjust="spacingAndGlyphs">CLG</text>
<text x="640" y="746" font-family="Liberation Sans" font-size="5.59" fill="#444" textLength="12" lengthAdjust="spacingAndGlyphs">SLOPE</text>
<line x1="604.5" y1="740" x2="660" y2="740" stroke="#cfcfcf" stroke-width="1"/>
<line x1="604.5" y1="728.7" x2="604.5" y2="740" stroke="#cfcfcf" stroke-width="1"/>
<line x1="567" y1="736" x2="590" y2="759" stroke="#cfcfcf" stroke-width="1"/>
<path d="M553,680 Q560,676 566,677" stroke="#ccc" stroke-width="1" fill="none"/>
<text transform="translate(563,758) rotate(-90)" x="0" y="0" font-family="Liberation Sans" font-size="8.38" fill="#222" stroke="#222" stroke-width="0.3" textLength="14" lengthAdjust="spacingAndGlyphs">2868</text>
<line x1="688.3" y1="421.6" x2="740" y2="421.6" stroke="#cdcdcd" stroke-width="1.5"/>
<line x1="692.4" y1="424.3" x2="740" y2="424.3" stroke="#cdcdcd" stroke-width="1.5"/>
<line x1="769" y1="421.6" x2="845.7" y2="421.6" stroke="#cdcdcd" stroke-width="1.5"/>
<line x1="769" y1="424.3" x2="829.1" y2="424.3" stroke="#cdcdcd" stroke-width="1.5"/>
<line x1="845.7" y1="412.6" x2="845.7" y2="421.6" stroke="#cdcdcd" stroke-width="1.5"/>
<line x1="848" y1="412.6" x2="848" y2="424.3" stroke="#cdcdcd" stroke-width="1.5"/>
<line x1="833.2" y1="424.3" x2="848" y2="424.3" stroke="#cdcdcd" stroke-width="1.5"/>
<line x1="688.3" y1="421.6" x2="688.3" y2="675.4" stroke="#cdcdcd" stroke-width="1.5"/>
<line x1="692.4" y1="421.6" x2="692.4" y2="675.4" stroke="#cdcdcd" stroke-width="1.5"/>
<path d="M769,424.3 L748.5,444.6" stroke="#c4c4c4" stroke-width="1" fill="none"/>
<path d="M748.5,444.6 Q739.2,436.5 740,424.3" stroke="#c4c4c4" stroke-width="1" fill="none"/>
<text x="746" y="421.2" font-family="Liberation Sans" font-size="7.82" fill="#222" stroke="#222" stroke-width="0.3" textLength="14.8" lengthAdjust="spacingAndGlyphs">2668</text>
<line x1="773.9" y1="424.3" x2="773.9" y2="481.6" stroke="#cdcdcd" stroke-width="1.5"/>
<line x1="777.3" y1="424.3" x2="777.3" y2="481.6" stroke="#cdcdcd" stroke-width="1.5"/>
<line x1="773.9" y1="481.6" x2="798.7" y2="481.6" stroke="#cdcdcd" stroke-width="1.5"/>
<line x1="777.3" y1="477.5" x2="798.7" y2="477.5" stroke="#cdcdcd" stroke-width="1.5"/>
<line x1="824.3" y1="477.5" x2="829.1" y2="477.5" stroke="#cdcdcd" stroke-width="1.5"/>
<line x1="824.3" y1="481.6" x2="829.1" y2="481.6" stroke="#cdcdcd" stroke-width="1.5"/>
<line x1="789" y1="424.3" x2="789" y2="477.5" stroke="#c9c9c9" stroke-width="1" stroke-dasharray="4 3"/>
<line x1="777.3" y1="435.4" x2="829.1" y2="435.4" stroke="#c9c9c9" stroke-width="1" stroke-dasharray="4 3"/>
<path d="M824.3,481.6 L806.5,500" stroke="#c4c4c4" stroke-width="1" fill="none"/>
<path d="M806.5,500 Q798.0,492.8 798.7,481.6" stroke="#c4c4c4" stroke-width="1" fill="none"/>
<text x="805.9" y="483" font-family="Liberation Sans" font-size="7.68" fill="#222" stroke="#222" stroke-width="0.3" textLength="13.8" lengthAdjust="spacingAndGlyphs">2468</text>
<line x1="829.1" y1="424.3" x2="829.1" y2="693.8" stroke="#cdcdcd" stroke-width="1.5"/>
<line x1="833.2" y1="424.3" x2="833.2" y2="693.8" stroke="#cdcdcd" stroke-width="1.5"/>
<path d="M692.4,672.6 H766.4 V689.4 H829.4" stroke="#cdcdcd" stroke-width="1.5" fill="none"/>
<path d="M688.3,675.4 H764 V693.8 H833.2" stroke="#cdcdcd" stroke-width="1.5" fill="none"/>
<rect x="783" y="690" width="32" height="3.3" fill="#e0e0e0"/>
<text x="776" y="688.2" font-family="Liberation Sans" font-size="7.54" fill="#222" stroke="#222" stroke-width="0.3" textLength="48" lengthAdjust="spacingAndGlyphs">3050 DRYWALL</text>
<text x="754.5" y="527.2" font-family="Liberation Sans" font-size="10.61" fill="#222" textLength="25.5" lengthAdjust="spacingAndGlyphs">BED 4</text>
<text x="751.5" y="540.3" font-family="Liberation Sans" font-size="10.61" fill="#222" textLength="32.0" lengthAdjust="spacingAndGlyphs">12' x 21'</text>
<rect x="685" y="428" width="3.3" height="5" fill="#ddd"/>
<line x1="688.4" y1="713.4" x2="738.2" y2="713.4" stroke="#cdcdcd" stroke-width="1.5"/>
<line x1="692.4" y1="716.4" x2="738.2" y2="716.4" stroke="#cdcdcd" stroke-width="1.5"/>
<line x1="769.4" y1="713.4" x2="846.8" y2="713.4" stroke="#cdcdcd" stroke-width="1.5"/>
<line x1="769.4" y1="716.4" x2="829.5" y2="716.4" stroke="#cdcdcd" stroke-width="1.5"/>
<line x1="846.8" y1="702.6" x2="846.8" y2="713.4" stroke="#cdcdcd" stroke-width="1.5"/>
<line x1="849" y1="702.6" x2="849" y2="716.4" stroke="#cdcdcd" stroke-width="1.5"/>
<line x1="833.7" y1="716.4" x2="849" y2="716.4" stroke="#cdcdcd" stroke-width="1.5"/>
<path d="M769.4,716.4 L747,738" stroke="#c4c4c4" stroke-width="1" fill="none"/>
<path d="M747,738 Q737.2,729.4 738.2,716.4" stroke="#c4c4c4" stroke-width="1" fill="none"/>
<text x="741.8" y="712.8" font-family="Liberation Sans" font-size="7.54" fill="#222" stroke="#222" stroke-width="0.3" textLength="25.2" lengthAdjust="spacingAndGlyphs">2868 SC</text>
<line x1="688.7" y1="713.4" x2="688.7" y2="968.5" stroke="#cdcdcd" stroke-width="1.5"/>
<line x1="692.7" y1="713.4" x2="692.7" y2="968.5" stroke="#cdcdcd" stroke-width="1.5"/>
<path d="M692.7,964.5 H767 V982.1 H829.5" stroke="#cdcdcd" stroke-width="1.5" fill="none"/>
<path d="M688.7,968.5 H763.7 V985.8 H833.7" stroke="#cdcdcd" stroke-width="1.5" fill="none"/>
<line x1="829.5" y1="716.4" x2="829.5" y2="985.8" stroke="#cdcdcd" stroke-width="1.5"/>
<line x1="833.7" y1="716.4" x2="833.7" y2="985.8" stroke="#cdcdcd" stroke-width="1.5"/>
<rect x="783" y="982.5" width="32" height="3.0" fill="#e0e0e0"/>
<text x="776" y="980.3" font-family="Liberation Sans" font-size="8.8" fill="#222" stroke="#222" stroke-width="0.3" textLength="48.1" lengthAdjust="spacingAndGlyphs">3050 DRYWALL</text>
<text x="739.8" y="819.9" font-family="Liberation Sans" font-size="10.89" fill="#222" textLength="55.3" lengthAdjust="spacingAndGlyphs">UNFINISHED</text>
<text x="745.6" y="833.5" font-family="Liberation Sans" font-size="11.45" fill="#222" textLength="44.1" lengthAdjust="spacingAndGlyphs">STORAGE</text>
<text x="751" y="847.1" font-family="Liberation Sans" font-size="11.31" fill="#222" textLength="33.8" lengthAdjust="spacingAndGlyphs">12' x 21'</text>
<path d="M1040,258.5 V224.7 H1274.4 V987.6 H1048.4 V970.8 H962.9 V954 H867.6 V258.2 H1050.5 V345.2 H1274.4" stroke="#d6d6d6" stroke-width="1.1" fill="none" stroke-dasharray="5 3"/>
<rect x="1040" y="224.7" width="8.2" height="7.5" stroke="#c4c4c4" stroke-width="1" fill="none"/>
<rect x="1153.4" y="224.7" width="8.2" height="7.5" stroke="#c4c4c4" stroke-width="1" fill="none"/>
<rect x="1266" y="224.7" width="8.2" height="7.5" stroke="#c4c4c4" stroke-width="1" fill="none"/>
<path d="M952.3,592 V500.9 H1043.6 V509.3" stroke="#d6d6d6" stroke-width="1.1" fill="none" stroke-dasharray="5 3"/>
<path d="M1043.6,509.3 H1137.4 V592.4" stroke="#cdcdcd" stroke-width="1.5" fill="none"/>
<path d="M1045,512.4 H1135.3 V640.8" stroke="#cdcdcd" stroke-width="1.5" fill="none"/>
<path d="M1043.6,509.3 V555.1 H1089.8 V640.8" stroke="#cdcdcd" stroke-width="1.5" fill="none"/>
<line x1="1045" y1="558.6" x2="1089.8" y2="558.6" stroke="#cdcdcd" stroke-width="1.5"/>
<line x1="1054.8" y1="512.4" x2="1054.8" y2="555.1" stroke="#c0c0c0" stroke-width="1"/>
<line x1="1063.9" y1="512.4" x2="1063.9" y2="555.1" stroke="#c0c0c0" stroke-width="1"/>
<line x1="1073.7" y1="512.4" x2="1073.7" y2="555.1" stroke="#c0c0c0" stroke-width="1"/>
<line x1="1082.8" y1="512.4" x2="1082.8" y2="555.1" stroke="#c0c0c0" stroke-width="1"/>
<line x1="1093.3" y1="509.3" x2="1093.3" y2="640.8" stroke="#c0c0c0" stroke-width="1"/>
<line x1="1093.3" y1="564.2" x2="1135.3" y2="564.2" stroke="#b8b8b8" stroke-width="1.1"/>
<line x1="1093.3" y1="574" x2="1135.3" y2="574" stroke="#b8b8b8" stroke-width="1.1"/>
<line x1="1093.3" y1="583.1" x2="1135.3" y2="583.1" stroke="#b8b8b8" stroke-width="1.1"/>
<line x1="1093.3" y1="593.6" x2="1135.3" y2="593.6" stroke="#b8b8b8" stroke-width="1.1"/>
<line x1="1093.3" y1="602.7" x2="1135.3" y2="602.7" stroke="#b8b8b8" stroke-width="1.1"/>
<line x1="1093.3" y1="612.5" x2="1135.3" y2="612.5" stroke="#b8b8b8" stroke-width="1.1"/>
<line x1="1093.3" y1="621.6" x2="1135.3" y2="621.6" stroke="#b8b8b8" stroke-width="1.1"/>
<line x1="1093.3" y1="631.4" x2="1135.3" y2="631.4" stroke="#b8b8b8" stroke-width="1.1"/>
<line x1="1096.5" y1="564" x2="1096.5" y2="640" stroke="#d0d0d0" stroke-width="1"/>
<path d="M1091,534 H1114.3 V640" stroke="#c4c4c4" stroke-width="1" fill="none"/>
<path d="M1085,534 L1091,532.3 L1091,535.7 Z" stroke="#333" stroke-width="1" fill="#333"/>
<line x1="1093.3" y1="555.3" x2="1135.3" y2="555.3" stroke="#b8b8b8" stroke-width="1.1"/>
<line x1="1089.7" y1="640.8" x2="1138" y2="640.8" stroke="#cdcdcd" stroke-width="1.5"/>
<circle cx="1114" cy="641" r="1.3" fill="#222"/>
<line x1="867.7" y1="592" x2="1024" y2="592" stroke="#cdcdcd" stroke-width="1.5"/>
<line x1="871.5" y1="595.7" x2="1024" y2="595.7" stroke="#cdcdcd" stroke-width="1.5"/>
<line x1="1047.8" y1="592" x2="1089.8" y2="592" stroke="#cdcdcd" stroke-width="1.5"/>
<line x1="1047.8" y1="595.7" x2="1089.8" y2="595.7" stroke="#cdcdcd" stroke-width="1.5"/>
<line x1="1076" y1="598.3" x2="1089" y2="598.3" stroke="#999" stroke-width="1.2"/>
<path d="M1024,595.7 L1041.5,612.3" stroke="#c4c4c4" stroke-width="1" fill="none"/>
<path d="M1041.5,612.3 Q1048.8,605.7 1047.8,595.7" stroke="#c4c4c4" stroke-width="1" fill="none"/>
<text x="1027.9" y="590.8" font-family="Liberation Sans" font-size="7.4" fill="#222" stroke="#222" stroke-width="0.3" textLength="14.6" lengthAdjust="spacingAndGlyphs">2030</text>
<line x1="867.7" y1="592" x2="867.7" y2="735.2" stroke="#cdcdcd" stroke-width="1.5"/>
<line x1="871.5" y1="592" x2="871.5" y2="735.2" stroke="#cdcdcd" stroke-width="1.5"/>
<rect x="867.9" y="635.2" width="3.4" height="35.2" fill="#d8d8d8"/>
<path d="M871.5,731.7 H1048.8 V714.4 H1203.6 V595.9" stroke="#cdcdcd" stroke-width="1.5" fill="none"/>
<path d="M867.7,735.2 H1052 V718.4 H1206.8 V592.4" stroke="#cdcdcd" stroke-width="1.5" fill="none"/>
<line x1="1136" y1="592.4" x2="1206.8" y2="592.4" stroke="#cdcdcd" stroke-width="1.5"/>
<line x1="1138" y1="595.9" x2="1203.6" y2="595.9" stroke="#cdcdcd" stroke-width="1.5"/>
<line x1="1136" y1="592.4" x2="1136" y2="640.8" stroke="#cdcdcd" stroke-width="1.5"/>
<line x1="1138" y1="595.9" x2="1138" y2="640.8" stroke="#cdcdcd" stroke-width="1.5"/>
<line x1="1138" y1="606.2" x2="1203.6" y2="606.2" stroke="#c9c9c9" stroke-width="1" stroke-dasharray="4 3"/>
<line x1="1138" y1="618.7" x2="1156.7" y2="618.7" stroke="#cdcdcd" stroke-width="1.5"/>
<line x1="1138" y1="622.1" x2="1156.7" y2="622.1" stroke="#cdcdcd" stroke-width="1.5"/>
<line x1="1184.3" y1="618.7" x2="1206.8" y2="618.7" stroke="#cdcdcd" stroke-width="1.5"/>
<line x1="1184.3" y1="622.1" x2="1203.6" y2="622.1" stroke="#cdcdcd" stroke-width="1.5"/>
<path d="M1184.3,622.1 L1164.6,641.5" stroke="#c4c4c4" stroke-width="1" fill="none"/>
<path d="M1164.6,641.5 Q1155.8,633.8 1156.7,622.1" stroke="#c4c4c4" stroke-width="1" fill="none"/>
<text x="1162.2" y="622.8" font-family="Liberation Sans" font-size="7.68" fill="#222" stroke="#222" stroke-width="0.3" textLength="14.5" lengthAdjust="spacingAndGlyphs">2568</text>
<rect x="1067.2" y="656.8" width="29.3" height="24.8" stroke="#c4c4c4" stroke-width="1" fill="none"/>
<text x="1072" y="690" font-family="Liberation Sans" font-size="8.38" fill="#222" font-style="italic" stroke="#222" stroke-width="0.3" textLength="21" lengthAdjust="spacingAndGlyphs">25.5x30</text>
<text x="1069" y="698" font-family="Liberation Sans" font-size="8.38" fill="#222" font-style="italic" stroke="#222" stroke-width="0.3" textLength="27" lengthAdjust="spacingAndGlyphs">SCUTTLE</text>
<text x="954.4" y="666.4" font-family="Liberation Sans" font-size="11.17" fill="#222" textLength="23.2" lengthAdjust="spacingAndGlyphs">LOFT</text>
<text x="950.4" y="680" font-family="Liberation Sans" font-size="12.29" fill="#222" textLength="32.8" lengthAdjust="spacingAndGlyphs">15' x 12'</text>
<text transform="translate(879.5,666) rotate(-90)" x="0" y="0" font-family="Liberation Sans" font-size="7.68" fill="#222" stroke="#222" stroke-width="0.3" textLength="25" lengthAdjust="spacingAndGlyphs">3060 SH</text>
<text transform="translate(890,670) rotate(-90)" x="0" y="0" font-family="Liberation Sans" font-size="7.68" fill="#222" stroke="#222" stroke-width="0.3" textLength="32" lengthAdjust="spacingAndGlyphs">DRYWALL</text>
<line x1="1288.3" y1="594.9" x2="1370.5" y2="594.9" stroke="#cdcdcd" stroke-width="1.5"/>
<line x1="1288.3" y1="598.3" x2="1370.5" y2="598.3" stroke="#cdcdcd" stroke-width="1.5"/>
<line x1="1367" y1="598.3" x2="1367" y2="721.2" stroke="#cdcdcd" stroke-width="1.5"/>
<line x1="1370.5" y1="598.3" x2="1370.5" y2="721.2" stroke="#cdcdcd" stroke-width="1.5"/>
<line x1="1288.3" y1="718.5" x2="1367" y2="718.5" stroke="#cdcdcd" stroke-width="1.5"/>
<line x1="1288.3" y1="721.2" x2="1367" y2="721.2" stroke="#cdcdcd" stroke-width="1.5"/>
<line x1="1301.4" y1="598.3" x2="1301.4" y2="645.3" stroke="#cdcdcd" stroke-width="1.5"/>
<line x1="1304.6" y1="598.3" x2="1304.6" y2="645.3" stroke="#cdcdcd" stroke-width="1.5"/>
<line x1="1301.4" y1="672.2" x2="1301.4" y2="718.5" stroke="#cdcdcd" stroke-width="1.5"/>
<line x1="1304.6" y1="672.2" x2="1304.6" y2="718.5" stroke="#cdcdcd" stroke-width="1.5"/>
<line x1="1288.3" y1="610.7" x2="1301.4" y2="610.7" stroke="#ccc" stroke-width="1"/>
<line x1="1288.3" y1="621.1" x2="1301.4" y2="621.1" stroke="#ccc" stroke-width="1"/>
<path d="M1304.6,672.2 L1322,657" stroke="#c4c4c4" stroke-width="1" fill="none"/>
<path d="M1322,657 Q1315.3,646.3 1304.6,645.3" stroke="#c4c4c4" stroke-width="1" fill="none"/>
<text transform="translate(1311,666) rotate(-90)" x="0" y="0" font-family="Liberation Sans" font-size="8.38" fill="#222" stroke="#222" stroke-width="0.3" textLength="14" lengthAdjust="spacingAndGlyphs">2468</text>
<rect x="1344.2" y="598.3" width="22.8" height="35.2" stroke="#cdcdcd" stroke-width="1.5" fill="none"/>
<ellipse cx="1356" cy="614.5" rx="6.5" ry="8.5" stroke="#c4c4c4" stroke-width="1" fill="none"/>
<rect x="1355.7" y="640.4" width="8.8" height="18.6" stroke="#cdcdcd" stroke-width="1.5" fill="none"/>
<ellipse cx="1346.5" cy="650" rx="9" ry="7" stroke="#c9c9c9" stroke-width="1" fill="none"/>
<rect x="1304.2" y="688.1" width="57.3" height="30.4" stroke="#cdcdcd" stroke-width="1.5" fill="none"/>
<line x1="1304.2" y1="692.2" x2="1361.5" y2="692.2" stroke="#c4c4c4" stroke-width="1"/>
<line x1="1361.5" y1="679" x2="1367" y2="679" stroke="#ccc" stroke-width="1"/>
<line x1="1361.5" y1="679" x2="1361.5" y2="718" stroke="#ccc" stroke-width="1"/>
<rect x="1310" y="714" width="48" height="3" fill="#d4d4d4"/>
<line x1="1350" y1="699" x2="1354" y2="699" stroke="#666" stroke-width="1"/>
<line x1="1352" y1="697" x2="1352" y2="701" stroke="#666" stroke-width="1"/>
<text x="1321.7" y="672" font-family="Liberation Sans" font-size="11.31" fill="#222" textLength="31.8" lengthAdjust="spacingAndGlyphs">BATH 3</text>
<text x="148.7" y="112.7" font-family="Liberation Serif" font-size="44.89" fill="#fff" font-weight="bold" textLength="138.6" lengthAdjust="spacingAndGlyphs">Goodall</text>
<text x="168" y="138.7" font-family="Liberation Serif" font-size="24.43" fill="#fff" font-weight="bold" textLength="103" lengthAdjust="spacing">HOMES</text>
<text x="353.2" y="1023.6" font-family="Liberation Sans" font-size="18.99" fill="#2e2e2e" textLength="94.8" lengthAdjust="spacingAndGlyphs">First Floor</text>
<text x="917.3" y="1023.6" font-family="Liberation Sans" font-size="18.99" fill="#2e2e2e" textLength="210.7" lengthAdjust="spacingAndGlyphs">Optional Second Floor</text>
<text x="1129.5" y="1091.6" font-family="Liberation Serif" font-size="45.19" fill="#000" stroke="#000" stroke-width="0.55" textLength="241.8" lengthAdjust="spacingAndGlyphs">The Brighton</text>
<text x="1312.4" y="1113.3" font-family="Liberation Sans" font-size="13.41" fill="#333" textLength="58.9" lengthAdjust="spacingAndGlyphs">R2:DORV</text>
<text x="274" y="1113.6" font-family="Liberation Sans" font-size="13.41" fill="#333" textLength="951.6" lengthAdjust="spacingAndGlyphs">Elevation floor plans vary. (Traditional Elevation shown above). All dimensions are approximate. See New Home Consultant for additional options.</text>
<text x="574.2" y="436.1" font-family="Liberation Sans" font-size="14.53" fill="#333" textLength="61.2" lengthAdjust="spacingAndGlyphs">Optional</text>
<text x="576.2" y="550" font-family="Liberation Sans" font-size="14.66" fill="#222" textLength="61.4" lengthAdjust="spacingAndGlyphs">Optional</text>
<text x="559.6" y="566.1" font-family="Liberation Sans" font-size="14.39" fill="#222" textLength="94.8" lengthAdjust="spacingAndGlyphs">Second Floor</text>
<text x="587" y="582" font-family="Liberation Sans" font-size="14.53" fill="#222" textLength="39.7" lengthAdjust="spacingAndGlyphs">Stairs</text>
<text x="736.9" y="407.8" font-family="Liberation Sans" font-size="14.11" fill="#333" textLength="61.5" lengthAdjust="spacingAndGlyphs">Optional</text>
<text x="1301.4" y="588" font-family="Liberation Sans" font-size="14.53" fill="#333" textLength="61.2" lengthAdjust="spacingAndGlyphs">Optional</text>
</svg>
</body></html>
